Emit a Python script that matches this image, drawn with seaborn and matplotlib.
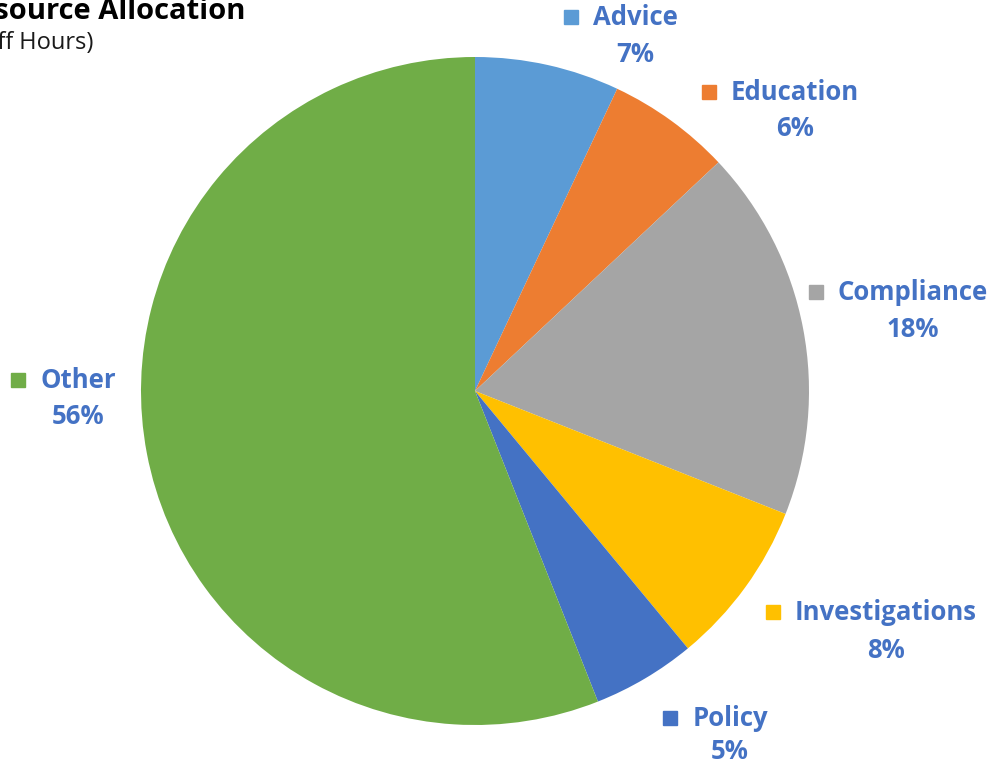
import matplotlib
matplotlib.use('Agg')
import matplotlib.pyplot as plt
import seaborn as sns

# -- данные --
categories = ['Advice', 'Education', 'Compliance', 'Investigations', 'Policy', 'Other']
shares = [7, 6, 18, 8, 5, 56]
slice_colors = ['#5B9BD5', '#ED7D31', '#A5A5A5', '#FFC000', '#4472C4', '#70AD47']

title_text = 'Resource Allocation'
subtitle_text = '(Staff Hours)'

# -- раскладка подписей (пиксели: центр подписи, базовые линии строк) --
label_layout = {
    'Advice': (635, 25, 62),
    'Education': (795, 100, 136),
    'Compliance': (913, 300, 337),
    'Investigations': (886, 620, 658),
    'Policy': (730, 726, 759),
    'Other': (78, 388, 424),
}

W, H = 990, 765
LABEL_COLOR = '#4472C4'

sns.set_theme(style='white')
plt.rcParams['font.family'] = ['Open Sans', 'DejaVu Sans']

fig = plt.figure(figsize=(W / 100, H / 100), dpi=100)
ax = fig.add_axes([0, 0, 1, 1])

ax.pie(shares, colors=slice_colors, startangle=90, counterclock=False,
       center=(475, H - 391), radius=334,
       wedgeprops=dict(linewidth=0))
ax.set_xlim(0, W)
ax.set_ylim(0, H)
ax.set_aspect('equal')
ax.axis('off')

renderer = fig.canvas.get_renderer()
for name, pct, col in zip(categories, shares, slice_colors):
    cx, base1, base2 = label_layout[name]
    t = ax.text(cx, H - base1, name, ha='center', va='baseline',
                fontsize=18.5, fontweight='bold', color=LABEL_COLOR)
    ax.text(cx, H - base2, '{}%'.format(pct), ha='center', va='baseline',
            fontsize=18.5, fontweight='bold', color=LABEL_COLOR)
    bb = t.get_window_extent(renderer)
    ax.plot([bb.x0 - 22], [H - base1 + 8], marker='s', ms=10.5,
            color=col, linestyle='none')

# заголовок, обрезанный слева как на исходнике
ax.text(-42, H - 19, title_text, ha='left', va='baseline', fontsize=21,
        fontweight='bold', color='black', clip_on=False)
ax.text(-44, H - 49, subtitle_text, ha='left', va='baseline', fontsize=17,
        color='#1a1a1a', clip_on=False)

plt.savefig('out.png', dpi=100)
plt.close()
